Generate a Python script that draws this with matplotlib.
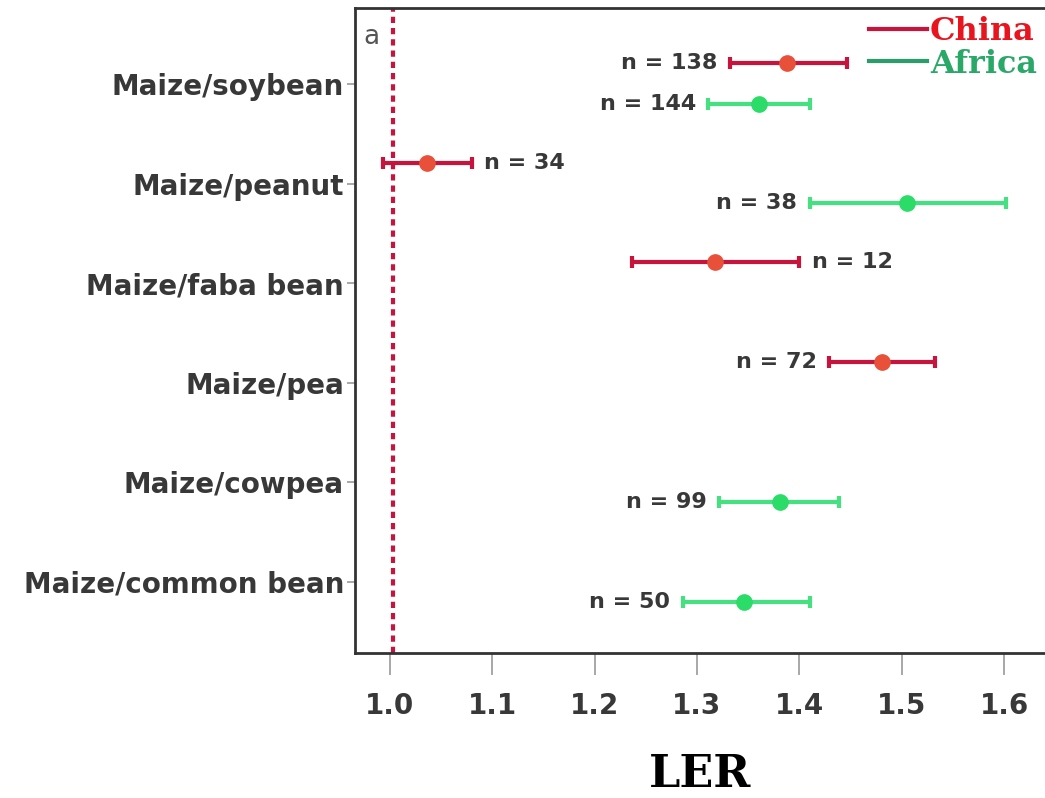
import numpy as np
import matplotlib
matplotlib.use("Agg")
import matplotlib.pyplot as plt

# data
crops = ["Maize/soybean", "Maize/peanut", "Maize/faba bean", "Maize/pea",
         "Maize/cowpea", "Maize/common bean"]

# China: crop index, mean, low, high, n
china_idx = [0, 1, 2, 3]
china_mean = [1.388, 1.036, 1.318, 1.481]
china_lo = [1.332, 0.993, 1.237, 1.429]
china_hi = [1.447, 1.080, 1.400, 1.533]
china_n = [138, 34, 12, 72]
china_side = ["left", "right", "right", "left"]

# Africa
africa_idx = [0, 1, 4, 5]
africa_mean = [1.361, 1.505, 1.381, 1.346]
africa_lo = [1.311, 1.410, 1.322, 1.286]
africa_hi = [1.410, 1.602, 1.439, 1.410]
africa_n = [144, 38, 99, 50]
africa_side = ["left", "left", "left", "left"]

ref_line = 1.003

fig = plt.figure(figsize=(10.45, 7.98), dpi=100)
ax = fig.add_axes([0.3397, 0.1817, 0.6603, 0.8083])

def draw(idx, mean, lo, hi, ns, sides, off, lcol, mcol):
    y = np.array(idx) + off
    mean = np.array(mean)
    err = [mean - np.array(lo), np.array(hi) - mean]
    ax.errorbar(mean, y, xerr=err, fmt="o", color=lcol, ecolor=lcol,
                elinewidth=3, capsize=4, capthick=3, ms=11,
                mfc=mcol, mec=mcol, zorder=3)
    for yi, l, h, n, s in zip(y, lo, hi, ns, sides):
        if s == "left":
            ax.text(l - 0.012, yi, "n = %d" % n, ha="right", va="center",
                    fontsize=16, color="#383838", weight="bold")
        else:
            ax.text(h + 0.012, yi, "n = %d" % n, ha="left", va="center",
                    fontsize=16, color="#383838", weight="bold")

draw(china_idx, china_mean, china_lo, china_hi, china_n, china_side,
     -0.21, "#c8143c", "#e8503a")
draw(africa_idx, africa_mean, africa_lo, africa_hi, africa_n, africa_side,
     0.2, "#45e07f", "#2bdc68")

ax.axvline(ref_line, color="#c8143c", lw=3, linestyle=(0, (1.5, 1.2)), zorder=2)

# legend drawn as plain lines
l1, = ax.plot([], [], color="#c8143c", lw=3, label="China")
l2, = ax.plot([], [], color="#2a9d6a", lw=3, label="Africa")
leg = ax.legend(handles=[l1, l2], loc="upper right", frameon=False,
                prop={"family": "serif", "weight": "bold", "size": 23},
                handlelength=1.8, handletextpad=0.1, labelspacing=0.05,
                borderaxespad=0.15, borderpad=0.1)
leg.get_texts()[0].set_color("#e8141e")
leg.get_texts()[1].set_color("#2aa868")

ax.text(0.012, 0.955, "a", transform=ax.transAxes, fontsize=19,
        color="#555555", ha="left", va="center")

ax.set_xlim(0.966, 1.640)
ax.set_ylim(5.713, -0.763)
ax.set_yticks(range(len(crops)))
ax.set_yticklabels(crops, fontsize=20, color="#383838", weight="bold")
ax.set_xticks([1.0, 1.1, 1.2, 1.3, 1.4, 1.5, 1.6])
ax.set_xticklabels(["1.0", "1.1", "1.2", "1.3", "1.4", "1.5", "1.6"],
                   fontsize=20, color="#383838", weight="bold")
ax.tick_params(axis="x", length=16, width=1.2, color="#999999", pad=12)
ax.tick_params(axis="y", length=6, width=1.2, color="#999999", pad=2)

ax.spines["right"].set_visible(False)
for s in ["left", "top", "bottom"]:
    ax.spines[s].set_linewidth(2)
    ax.spines[s].set_color("#333333")

ax.set_xlabel("LER", family="serif", weight="bold", fontsize=32, labelpad=24)

fig.savefig("out.png", dpi=100)
